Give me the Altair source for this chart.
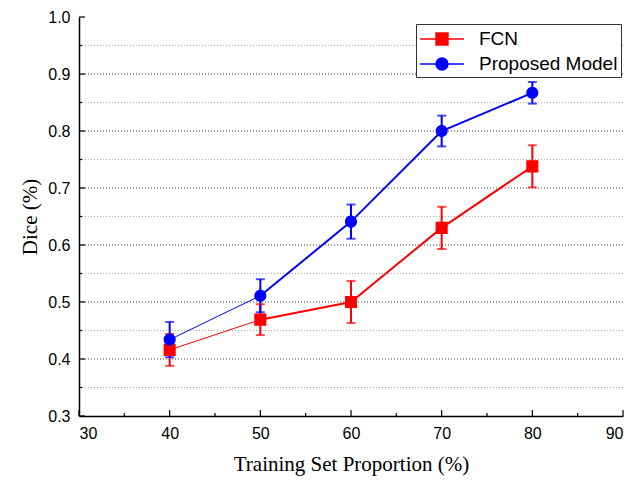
import altair as alt
import pandas as pd

# ---- data ----
proportion = [40, 50, 60, 70, 80]
fcn_dice = [0.416, 0.469, 0.500, 0.630, 0.738]
fcn_err = [0.028, 0.027, 0.037, 0.037, 0.037]
pm_dice = [0.434, 0.511, 0.641, 0.800, 0.867]
pm_err = [0.031, 0.029, 0.030, 0.027, 0.019]
series_names = ["FCN", "Proposed Model"]
series_colors = ["#ff0000", "#0000ff"]

x_major = [30, 40, 50, 60, 70, 80, 90]
x_minor = [35, 45, 55, 65, 75, 85]
y_major = [0.3, 0.4, 0.5, 0.6, 0.7, 0.8, 0.9, 1.0]
y_minor = [0.35, 0.45, 0.55, 0.65, 0.75, 0.85, 0.95]
y_grid_major = [0.4, 0.5, 0.6, 0.7, 0.8, 0.9]

W, H = 544, 399

rows = []
for name, means, errs in [(series_names[0], fcn_dice, fcn_err), (series_names[1], pm_dice, pm_err)]:
    for x, m, e in zip(proportion, means, errs):
        rows.append({"x": x, "y": m, "lo": m - e, "hi": m + e, "series": name})
df = pd.DataFrame(rows)

xs = alt.Scale(domain=[30, 90], nice=False)
ys = alt.Scale(domain=[0.3, 1.0], nice=False)
cs = alt.Scale(domain=series_names, range=series_colors)

AX = alt.Axis(values=x_major, ticks=False, grid=False, format="d",
              title="Training Set Proportion (%)", labelPadding=9, titlePadding=12)
AY = alt.Axis(values=y_major, ticks=False, grid=False, format=".1f",
              title="Dice (%)", labelPadding=9, titlePadding=7)


def X(f):
    return alt.X(f, scale=xs, axis=AX)


def Y(f):
    return alt.Y(f, scale=ys, axis=AY)


base = alt.Chart(df)

grid_minor = alt.Chart(pd.DataFrame({"v": y_minor})).mark_rule(
    color="#a8a8a8", strokeDash=[1, 2], strokeWidth=1
).encode(y=Y("v:Q"))
grid_major = alt.Chart(pd.DataFrame({"v": y_grid_major})).mark_rule(
    color="#404040", strokeDash=[1, 2], strokeWidth=1
).encode(y=Y("v:Q"))

xt_major = alt.Chart(pd.DataFrame({"v": x_major})).mark_rule(color="black", strokeWidth=1.2).encode(
    x=X("v:Q"), y=alt.value(H), y2=alt.value(H - 6))
xt_minor = alt.Chart(pd.DataFrame({"v": x_minor})).mark_rule(color="black", strokeWidth=1.2).encode(
    x=X("v:Q"), y=alt.value(H), y2=alt.value(H - 3))
yt_major = alt.Chart(pd.DataFrame({"v": y_major})).mark_rule(color="black", strokeWidth=1.2).encode(
    y=Y("v:Q"), x=alt.value(0), x2=alt.value(6))
yt_minor = alt.Chart(pd.DataFrame({"v": y_minor})).mark_rule(color="black", strokeWidth=1.2).encode(
    y=Y("v:Q"), x=alt.value(0), x2=alt.value(3))

# marker + line-segment symbols (line part only shows where a stroke is drawn: the legend)
sq_path = "M-2,0H2M-0.55,-0.55H0.55V0.55H-0.55Z"
ci_path = "M-2,0H2M-0.55,0A0.55,0.55,0,1,1,0.55,0A0.55,0.55,0,1,1,-0.55,0Z"

leg = alt.Legend(
    orient="none", legendX=337, legendY=7, title=None,
    fillColor="white", strokeColor="#333333",
    padding=3, rowPadding=3, labelFontSize=19,
    labelFont="Liberation Sans", labelColor="black",
    symbolSize=484, symbolStrokeWidth=1.3, symbolOpacity=1,
    symbolOffset=11, labelOffset=25,
)

col = alt.Color("series:N", scale=cs, legend=leg)

err_rule = base.mark_rule(strokeWidth=2).encode(
    x=X("x:Q"), y=Y("lo:Q"), y2="hi:Q", color=col)
cap_lo = base.mark_tick(orient="horizontal", size=9, thickness=2).encode(
    x=X("x:Q"), y=Y("lo:Q"), color=col)
cap_hi = base.mark_tick(orient="horizontal", size=9, thickness=2).encode(
    x=X("x:Q"), y=Y("hi:Q"), color=col)

line_thin = base.transform_filter("datum.x <= 50").mark_line(strokeWidth=1).encode(
    x=X("x:Q"), y=Y("y:Q"), color=col)
line_thick = base.transform_filter("datum.x >= 50").mark_line(strokeWidth=2).encode(
    x=X("x:Q"), y=Y("y:Q"), color=col)

pts = base.mark_point(filled=True, size=484, opacity=1).encode(
    x=X("x:Q"), y=Y("y:Q"), color=col,
    shape=alt.Shape("series:N", scale=alt.Scale(domain=series_names, range=[sq_path, ci_path]),
                    legend=leg),
)

chart = alt.layer(
    grid_minor, grid_major, err_rule, cap_lo, cap_hi, line_thin, line_thick, pts,
    xt_major, xt_minor, yt_major, yt_minor,
).properties(
    width=W, height=H,
    autosize=alt.AutoSizeParams(type="none"),
    padding={"left": 79, "top": 17, "right": 21, "bottom": 68},
    background="white",
).configure_view(strokeWidth=0).configure_axis(
    domainColor="black", domainWidth=1.5,
    labelFont="Liberation Sans", labelFontSize=16, labelColor="black",
    titleFont="Liberation Serif", titleFontSize=21, titleFontWeight="normal", titleColor="black",
)

chart.save("out.html", embed_options={"renderer": "svg", "actions": False})
